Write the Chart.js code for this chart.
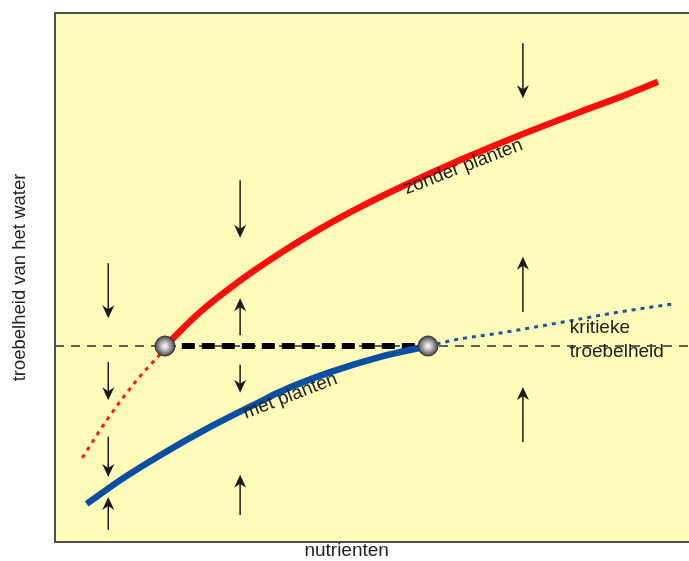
<!DOCTYPE html>
<html>
<head>
<meta charset="utf-8">
<script src="https://cdn.jsdelivr.net/npm/chart.js@4/dist/chart.umd.min.js"></script>
<style>
  html, body { margin: 0; padding: 0; background: #fff; }
  #wrap { width: 689px; height: 561px; }
</style>
</head>
<body>
<div id="wrap"><canvas id="troebel-chart" width="689" height="561"></canvas></div>
<script>
// diagram units: x 0..100 (nutrienten), y 0..100 (troebelheid)
const criticalLevel = 37.05;

const redX = [17.4, 22.9, 28.7, 35.5, 41.8, 48.1, 54.9, 63.9, 73.3, 82.8, 89.1, 95.1];
const redY = [37.05, 43.5, 49.0, 54.6, 59.2, 63.3, 67.3, 72.2, 76.9, 81.3, 84.1, 87.0];

const redDotX = [4.3, 8.2, 12.9, 16.6];
const redDotY = [15.9, 23.1, 30.6, 35.5];

const blueX = [5.0, 10.3, 16.6, 24.4, 32.3, 35.5, 43.4, 51.3, 58.8];
const blueY = [7.2, 11.7, 16.4, 21.7, 26.5, 28.4, 32.1, 35.0, 37.05];

const blueDotX = [58.8, 63.9, 70.2, 81.2, 89.1, 97.5];
const blueDotY = [37.05, 38.4, 39.5, 41.8, 43.5, 45.0];

const criticalX = [0, 100];
const jumpX = [20.0, 57.6];
const ballX = [17.35, 58.83];

// arrows: x, start value, tip value
const arrowX = [8.4, 8.4, 8.4, 8.4, 29.2, 29.2, 29.2, 29.2, 73.8, 73.8, 73.8];
const arrowFrom = [52.7, 34.0, 19.9, 2.3, 68.4, 39.1, 33.5, 5.1, 94.3, 43.5, 18.9];
const arrowTo = [42.3, 26.8, 12.3, 8.5, 57.5, 46.1, 28.2, 12.7, 83.9, 53.9, 29.3];

// in-plot text, plus the x-axis title sitting just under the axis
const labelText = ["zonder planten", "met planten", "kritieke", "troebelheid", "nutrienten"];
const labelX = [64.4, 37.1, 81.2, 81.2, 46.0];
const labelY = [70.9, 27.6, 40.5, 35.9, -1.75];
const labelAngle = [-21, -21, 0, 0, 0];
const labelAlign = ["center", "center", "left", "left", "center"];

const FONT = '"Liberation Sans", Arial, sans-serif';
const TEXT_COLOR = "#222222";

const toPoints = (xs, ys) => xs.map((x, i) => ({ x, y: ys[i] }));

function makeBall(r) {
  const c = document.createElement("canvas");
  c.width = c.height = r * 2 + 2;
  const g = c.getContext("2d");
  const m = r + 1;
  const grad = g.createRadialGradient(m, m, 0, m, m, r);
  grad.addColorStop(0, "#ffffff");
  grad.addColorStop(0.3, "#d0d0d0");
  grad.addColorStop(0.75, "#7a7a7a");
  grad.addColorStop(1, "#3c3c3c");
  g.fillStyle = grad;
  g.beginPath();
  g.arc(m, m, r, 0, Math.PI * 2);
  g.fill();
  g.strokeStyle = "#333";
  g.lineWidth = 1;
  g.stroke();
  return c;
}

const framePlugin = {
  id: "frame",
  beforeDraw(chart) {
    const { ctx, chartArea: a } = chart;
    ctx.save();
    ctx.fillStyle = "#ffffff";
    ctx.fillRect(0, 0, chart.width, chart.height);
    ctx.fillStyle = "#fffbb8";
    ctx.fillRect(a.left, a.top, a.right - a.left, a.bottom - a.top);
    ctx.strokeStyle = "#4d4d4d";
    ctx.lineWidth = 2;
    ctx.beginPath();
    ctx.moveTo(a.left, a.top);
    ctx.lineTo(a.right, a.top);
    ctx.stroke();
    ctx.restore();
  },
};

const arrowPlugin = {
  id: "arrows",
  afterDatasetsDraw(chart) {
    const { ctx, scales } = chart;
    ctx.save();
    ctx.strokeStyle = "#1a1a1a";
    ctx.fillStyle = "#1a1a1a";
    ctx.lineWidth = 1.5;
    arrowX.forEach((ax, i) => {
      const px = scales.x.getPixelForValue(ax);
      const y0 = scales.y.getPixelForValue(arrowFrom[i]);
      const y1 = scales.y.getPixelForValue(arrowTo[i]);
      const dir = Math.sign(y1 - y0);
      ctx.beginPath();
      ctx.moveTo(px, y0);
      ctx.lineTo(px, y1 - dir * 6);
      ctx.stroke();
      ctx.beginPath();
      ctx.moveTo(px, y1);
      ctx.lineTo(px - 6, y1 - dir * 13);
      ctx.lineTo(px, y1 - dir * 9);
      ctx.lineTo(px + 6, y1 - dir * 13);
      ctx.closePath();
      ctx.fill();
    });
    ctx.restore();
  },
};

const labelPlugin = {
  id: "curveLabels",
  afterDatasetsDraw(chart) {
    const { ctx, scales } = chart;
    ctx.save();
    ctx.fillStyle = TEXT_COLOR;
    ctx.font = `19px ${FONT}`;
    ctx.textBaseline = "middle";
    labelText.forEach((t, i) => {
      ctx.save();
      ctx.translate(scales.x.getPixelForValue(labelX[i]), scales.y.getPixelForValue(labelY[i]));
      ctx.rotate((labelAngle[i] * Math.PI) / 180);
      ctx.textAlign = labelAlign[i];
      ctx.fillText(t, 0, 0);
      ctx.restore();
    });
    ctx.restore();
  },
};

const lineSet = (data, color, width, dash) => ({
  data,
  borderColor: color,
  backgroundColor: color,
  borderWidth: width,
  borderDash: dash || [],
  borderCapStyle: "butt",
  cubicInterpolationMode: "monotone",
  pointRadius: 0,
  fill: false,
});

const datasets = [
  {
    data: toPoints(ballX, ballX.map(() => criticalLevel)),
    showLine: false,
    pointStyle: makeBall(10),
    pointRadius: 10,
  },
  lineSet(toPoints(redX, redY), "#ff0d0d", 6.5),
  lineSet(toPoints(blueX, blueY), "#0b4fa3", 6.5),
  lineSet(toPoints(redDotX, redDotY), "#ff1a1a", 3, [4, 5]),
  lineSet(toPoints(blueDotX, blueDotY), "#1558aa", 3, [4, 5]),
  lineSet(toPoints(jumpX, jumpX.map(() => criticalLevel)), "#000000", 6, [13, 7]),
  lineSet(toPoints(criticalX, criticalX.map(() => criticalLevel)), "#5e5e5e", 2, [9, 7]),
];

Chart.defaults.font.family = FONT;

new Chart(document.getElementById("troebel-chart"), {
  type: "line",
  data: { datasets },
  options: {
    responsive: false,
    animation: false,
    devicePixelRatio: 1,
    layout: { autoPadding: false, padding: { top: 13, right: 0, bottom: 19, left: 0 } },
    plugins: { legend: { display: false }, tooltip: { enabled: false } },
    scales: {
      x: {
        type: "linear",
        min: 0,
        max: 100,
        grid: { display: false, drawTicks: false },
        ticks: { display: false },
        border: { display: true, color: "#4d4d4d", width: 2 },
        title: { display: false },
      },
      y: {
        type: "linear",
        min: 0,
        max: 100,
        grid: { display: false, drawTicks: false },
        ticks: { display: false },
        border: { display: true, color: "#4d4d4d", width: 2 },
        title: {
          display: true,
          text: "troebelheid van het water",
          color: TEXT_COLOR,
          font: { size: 18.5, lineHeight: 1 },
          padding: { top: 11, bottom: 25.5 },
        },
      },
    },
  },
  plugins: [framePlugin, arrowPlugin, labelPlugin],
});
</script>
</body>
</html>
